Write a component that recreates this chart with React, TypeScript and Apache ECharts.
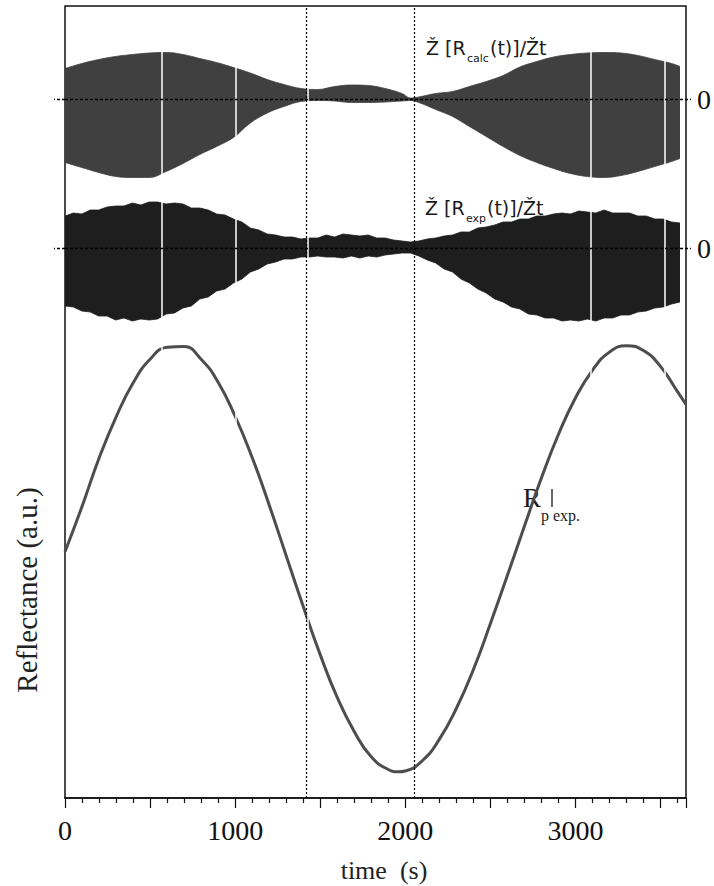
import React, { useEffect, useRef } from 'react';
import * as echarts from 'echarts';

// Reflectance curve R_p|exp. (a.u., 0..100 of the frame height)
const refTimes = [0, 100, 200, 300, 400, 500, 600, 700, 800, 900, 1000, 1100, 1200, 1300, 1400, 1500, 1600, 1700, 1800, 1900, 1960, 2000, 2100, 2200, 2300, 2400, 2500, 2600, 2700, 2800, 2900, 3000, 3100, 3200, 3300, 3400, 3500, 3600, 3650];
const reflectance = [31.1, 36.8, 42.9, 48.1, 52.4, 55.4, 56.9, 57.0, 55.4, 52.5, 48.2, 43.0, 37.0, 30.6, 24.2, 18.1, 12.7, 8.4, 5.2, 3.6, 3.3, 3.4, 4.7, 7.4, 11.3, 16.2, 22.0, 28.1, 34.3, 40.4, 45.9, 50.5, 54.0, 56.3, 57.1, 56.5, 54.5, 51.3, 49.7];

// d[R_calc(t)]/dt envelope (a.u.)
const calcTimes = [0, 100, 200, 300, 400, 500, 600, 700, 800, 900, 1000, 1100, 1200, 1300, 1400, 1500, 1600, 1700, 1800, 1900, 2000, 2050, 2100, 2200, 2300, 2400, 2500, 2600, 2700, 2800, 2900, 3000, 3100, 3200, 3300, 3400, 3500, 3600, 3650];
const calcUpper = [30.5, 35.5, 39.5, 42.5, 44.5, 46, 46.5, 44.5, 40.5, 36.5, 31.5, 26, 19.5, 14.5, 10.5, 9.5, 12.5, 14, 13.5, 10.5, 5.5, 1, 2, 5.5, 7.5, 12.5, 17.5, 23.5, 32, 37.5, 42, 44.5, 46, 46.5, 46, 43.5, 39.5, 35.5, 32.5];
const calcLower = [63.5, 68.5, 73.5, 77.5, 78.5, 78.5, 72.5, 64.5, 55.5, 47.5, 38.5, 24, 14, 7.5, 2.5, 1.5, 2, 3.5, 3.5, 3, 2, 1.5, 3.5, 10.5, 17.5, 27.5, 37.5, 47.5, 56.5, 63.5, 69.5, 74.5, 77.5, 78.5, 76.5, 72.5, 67.5, 62.5, 59.5];

// d[R_exp(t)]/dt envelope (a.u.)
const expTimes = [0, 50, 100, 150, 200, 250, 300, 350, 400, 450, 500, 550, 600, 650, 700, 750, 800, 850, 900, 950, 1000, 1050, 1100, 1150, 1200, 1250, 1300, 1350, 1400, 1450, 1500, 1550, 1600, 1650, 1700, 1750, 1800, 1850, 1900, 1950, 2000, 2050, 2100, 2150, 2200, 2250, 2300, 2350, 2400, 2450, 2500, 2550, 2600, 2650, 2700, 2750, 2800, 2850, 2900, 2950, 3000, 3050, 3100, 3150, 3200, 3250, 3300, 3350, 3400, 3450, 3500, 3550, 3600, 3650];
const expUpper = [32, 35, 34, 38, 38, 41, 42, 42, 45, 43, 46, 46, 44, 45, 44, 40, 40, 38, 34, 33, 29, 26, 20, 18, 14, 13, 11, 11, 9, 10, 10, 13, 11, 14, 13, 12, 13, 10, 10, 8, 7, 6, 7, 9, 10, 12, 13, 16, 16, 20, 21, 23, 26, 26, 29, 29, 32, 32, 34, 35, 34, 37, 36, 35, 38, 35, 35, 35, 32, 32, 29, 29, 26, 25];
const expLower = [58, 59, 63, 64, 68, 68, 72, 70, 73, 71, 72, 71, 66, 65, 60, 58, 51, 49, 43, 41, 35, 31, 24, 21, 16, 14, 11, 11, 9, 9, 8, 9, 9, 10, 8, 10, 8, 9, 7, 6, 5, 5, 8, 12, 15, 21, 24, 31, 35, 41, 45, 51, 54, 59, 61, 66, 67, 70, 70, 73, 72, 73, 71, 73, 70, 70, 67, 67, 64, 63, 60, 59, 56, 54];

// Vertical dotted markers and data gaps (s)
const markerTimes = [1418, 2053];
const gapTimes = [571, 1006, 1424, 3088, 3524];
const xLabelValues = [0, 1000, 2000, 3000];

const SERIF = 'Liberation Serif';
const SANS = 'DejaVu Sans';
const INK = '#1a1a1a';

export default function App() {
  const ref = useRef<HTMLDivElement>(null);
  useEffect(() => {
    const chart = echarts.init(ref.current as HTMLDivElement, null, { renderer: 'svg' });
    const pair = (ts: number[], vs: number[], sign = 1) => ts.map((t, i) => [t, sign * vs[i]]);
    const zeroTick = { show: true, customValues: [0], length: 11, lineStyle: { color: '#000', width: 1.3, type: [3, 2] } };
    const bandY = (grid: number, pos: string, label: boolean) => ({
      gridIndex: grid, type: 'value', min: -90, max: 90, position: pos,
      axisLine: { show: false }, axisTick: zeroTick, splitLine: { show: false },
      axisLabel: label
        ? { show: true, customValues: [0], formatter: () => '0', margin: 17, fontSize: 28, fontFamily: SERIF, color: '#111' }
        : { show: false },
    });
    const zeroLine = {
      silent: true, symbol: 'none', z: 6, label: { show: false },
      lineStyle: { color: '#000', width: 1.3, type: [3, 2] },
      data: [{ yAxis: 0 }],
    };
    const band = (xi: number, yi: number, data: number[][], color: string, smooth: any, withZero: boolean) => ({
      type: 'line', xAxisIndex: xi, yAxisIndex: yi, data, smooth, symbol: 'none', z: 2,
      lineStyle: { color, width: 0.8 }, areaStyle: { color, opacity: 1 },
      ...(withZero ? { markLine: zeroLine } : {}),
    });
    const hiddenX = (g: number) => ({ gridIndex: g, type: 'value', min: 0, max: 3650, show: false });
    const txt = (x: number, y: number, text: string, fontSize: number, fontFamily: string, align = 'left') => ({
      type: 'text', x, y, style: { text, fontSize, fontFamily, fill: INK, align, verticalAlign: 'middle' },
    });
    const option: any = {
      animation: false,
      backgroundColor: '#fff',
      grid: [
        { left: 65, right: 28, top: 6, bottom: 88, show: true, borderColor: '#111', borderWidth: 1.5, backgroundColor: 'transparent' },
        { left: 65, right: 28, top: 9, height: 180 },
        { left: 65, right: 28, top: 158, height: 180 },
      ],
      xAxis: [
        {
          gridIndex: 0, type: 'value', min: 0, max: 3650, interval: 500,
          axisLine: { lineStyle: { color: '#111', width: 1.5 } },
          axisTick: { length: 10, lineStyle: { color: '#111', width: 1.2 } },
          minorTick: { show: true, splitNumber: 5, length: 5, lineStyle: { color: '#111', width: 1.2 } },
          splitLine: { show: false },
          axisLabel: {
            margin: 18, fontSize: 28, fontFamily: SERIF, color: '#111',
            formatter: (v: number) => (xLabelValues.includes(v) ? String(v) : ''),
          },
        },
        hiddenX(1),
        hiddenX(2),
      ],
      yAxis: [
        { gridIndex: 0, type: 'value', min: 0, max: 100, show: false },
        bandY(1, 'left', false),
        bandY(1, 'right', true),
        bandY(2, 'left', false),
        bandY(2, 'right', true),
      ],
      series: [
        {
          type: 'line', xAxisIndex: 0, yAxisIndex: 0, data: pair(refTimes, reflectance), smooth: 0.5,
          symbol: 'none', z: 3, lineStyle: { color: '#4d4d4d', width: 3 },
          markLine: {
            silent: true, symbol: 'none', z: 5, label: { show: false },
            data: [
              ...gapTimes.map((t) => [
                { coord: [t, 0.5], lineStyle: { color: '#fff', width: 1.5, type: 'solid' } },
                { coord: [t, 99.5] },
              ]),
              ...markerTimes.map((t) => ({ xAxis: t, lineStyle: { color: '#000', width: 1.2, type: [2, 2] } })),
            ],
          },
        },
        band(1, 1, pair(calcTimes, calcUpper), '#404040', 0.4, true),
        band(1, 1, pair(calcTimes, calcLower, -1), '#404040', 0.4, false),
        band(2, 3, pair(expTimes, expUpper), '#1e1e1e', false, true),
        band(2, 3, pair(expTimes, expLower, -1), '#1e1e1e', false, false),
      ],
      graphic: [
        { type: 'text', x: 27, y: 590, rotation: Math.PI / 2, style: { text: 'Reflectance (a.u.)', fontSize: 29, fontFamily: SERIF, fill: '#222', align: 'center', verticalAlign: 'middle' } },
        { type: 'text', x: 384, y: 870, style: { text: 'time  (s)', fontSize: 26, fontFamily: SERIF, fill: '#222', align: 'center', verticalAlign: 'middle' } },
        txt(426, 48, 'Ž [R', 19, SANS),
        txt(467, 58, 'calc', 11, SANS),
        txt(490, 48, '(t)]/Žt', 19, SANS),
        txt(425, 208, 'Ž [R', 19, SANS),
        txt(466, 218, 'exp', 11, SANS),
        txt(487, 208, '(t)]/Žt', 19, SANS),
        txt(523, 498, 'R', 27, SERIF),
        { type: 'line', shape: { x1: 552, y1: 489, x2: 552, y2: 507 }, style: { stroke: INK, lineWidth: 1.3 } },
        txt(541, 515, 'p exp.', 16, SERIF),
      ],
    };
    chart.setOption(option);
    return () => chart.dispose();
  }, []);
  return <div ref={ref} style={{ position: 'fixed', left: 0, top: 0, width: 714, height: 886, background: '#fff' }} />;
}
